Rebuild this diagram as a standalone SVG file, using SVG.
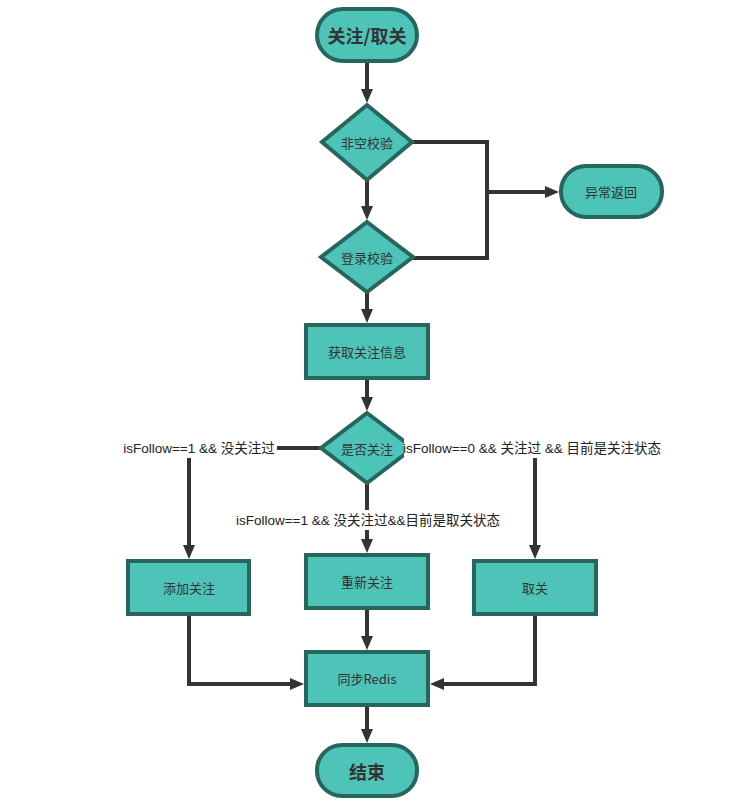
<svg xmlns="http://www.w3.org/2000/svg" width="745" height="804" viewBox="0 0 745 804">
<style>
.n{fill:#4ec3b8;stroke:#27665c;stroke-width:4}
.t{font-family:"Noto Sans CJK SC","Liberation Sans",sans-serif;font-size:13px;fill:#333;text-anchor:middle;dominant-baseline:central}
.b{font-size:18px;font-weight:bold}
.e{fill:none;stroke:#333;stroke-width:4}
.a{marker-end:url(#ah)}
.l{font-family:"Liberation Sans","Noto Sans CJK SC",sans-serif;font-size:13.5px;fill:#222;text-anchor:middle;dominant-baseline:central}
</style>
<defs>
<marker id="ah" viewBox="0 0 14 12" markerWidth="14" markerHeight="12" refX="8" refY="6" orient="auto" markerUnits="userSpaceOnUse">
<path d="M0,0 L14,6 L0,12 z" fill="#333"/>
</marker>
</defs>
<rect width="745" height="804" fill="#fff"/>
<g id="connectors">
<path class="e a" d="M367,62 V97"/>
<path class="e a" d="M367,180 V214"/>
<path class="e" d="M412,142 H487 V258 H413"/>
<path class="e a" d="M487,192 H553"/>
<path class="e a" d="M367,293 V317"/>
<path class="e a" d="M367,379 V405"/>
<path class="e a" d="M321,448 H189 V553"/>
<path class="e a" d="M413,448 H535 V553"/>
<path class="e a" d="M367,483 V547"/>
<path class="e a" d="M189,615 V684 H298"/>
<path class="e a" d="M535,615 V684 H436"/>
<path class="e a" d="M367,609 V644"/>
<path class="e a" d="M367,706 V737"/>
<rect x="121" y="438" width="156" height="20" fill="#fff"/>
<text class="l" x="199" y="448">isFollow==1 &amp;&amp; 没关注过</text>
</g>
<g id="start">
<rect class="n" x="317" y="9" width="100" height="52" rx="26"/>
<text class="t b" x="367" y="35">关注/取关</text>
</g>
<g id="check-empty">
<polygon class="n" points="367,105 412,142 367,180 322,142"/>
<text class="t" x="367" y="142">非空校验</text>
</g>
<g id="check-login">
<polygon class="n" points="367,222 413,257 367,292 321,257"/>
<text class="t" x="367" y="257">登录校验</text>
</g>
<g id="error-return">
<rect class="n" x="561" y="166" width="101" height="51" rx="25"/>
<text class="t" x="611" y="191">异常返回</text>
</g>
<g id="get-info">
<rect class="n" x="306" y="325" width="122" height="53"/>
<text class="t" x="367" y="351">获取关注信息</text>
</g>
<g id="is-follow">
<polygon class="n" points="367,413 413,448 367,483 321,448"/>
<text class="t" x="367" y="448">是否关注</text>
</g>
<g id="labels">
<rect x="404" y="438" width="257" height="20" fill="#fff"/>
<text class="l" x="532" y="448">isFollow==0 &amp;&amp; 关注过 &amp;&amp; 目前是关注状态</text>
<rect x="235" y="510" width="267" height="20" fill="#fff"/>
<text class="l" x="368" y="520">isFollow==1 &amp;&amp; 没关注过&amp;&amp;目前是取关状态</text>
</g>
<g id="add-follow">
<rect class="n" x="128" y="561" width="121" height="53"/>
<text class="t" x="189" y="587">添加关注</text>
</g>
<g id="re-follow">
<rect class="n" x="306" y="555" width="122" height="53"/>
<text class="t" x="367" y="581">重新关注</text>
</g>
<g id="unfollow">
<rect class="n" x="474" y="561" width="122" height="53"/>
<text class="t" x="535" y="587">取关</text>
</g>
<g id="sync-redis">
<rect class="n" x="306" y="652" width="122" height="53"/>
<text class="t" x="367" y="678">同步Redis</text>
</g>
<g id="end">
<rect class="n" x="317" y="745" width="100" height="51" rx="25"/>
<text class="t b" x="367" y="771">结束</text>
</g>
</svg>
